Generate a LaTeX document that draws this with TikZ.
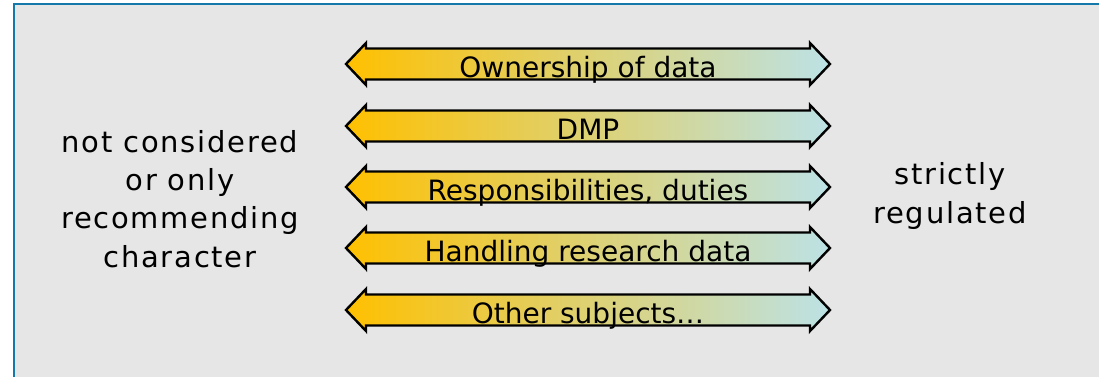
\documentclass[tikz,border=0pt]{standalone}
\usepackage{fontspec}
\setmainfont{DejaVu Sans}
\newfontfamily\widefont[LetterSpace=6]{DejaVu Sans}
\begin{document}
\definecolor{framecol}{RGB}{20,120,170}
\definecolor{panel}{RGB}{230,230,230}
\definecolor{warm}{RGB}{255,192,0}
\definecolor{midtone}{RGB}{226,210,100}
\definecolor{cool}{RGB}{188,226,230}
\tikzset{
  bararrow/.style={left color=warm, middle color=midtone, right color=cool,
    draw=black, line width=2.4pt, line join=miter},
  bartext/.style={font=\fontsize{28}{32}\selectfont, text=black, inner sep=0pt, anchor=base},
  sidetext/.style={font=\widefont\fontsize{29}{38.3}\selectfont, align=center, inner sep=0pt}
}
\begin{tikzpicture}[x=1pt,y=-1pt]
\useasboundingbox (0,0) rectangle (1099,376);
\fill[white] (0,0) rectangle (1099,376);
\clip (0,0) rectangle (1099,376);
\draw[framecol, line width=2pt, fill=panel] (14,4) rectangle (1120,400);
% double-headed gradient bars
\foreach \cy/\name/\lab in {64/a1/Ownership of data, 126/a2/DMP, 187/a3/{Responsibilities, duties}, 248/a4/Handling research data, 310/a5/Other subjects\dots}{
  \shade[bararrow] (346,\cy) -- (366,\cy-21) -- (366,\cy-15.5) -- (810,\cy-15.5)
    -- (810,\cy-21) -- (830,\cy) -- (810,\cy+21) -- (810,\cy+15.5)
    -- (366,\cy+15.5) -- (366,\cy+21) -- cycle;
  \node[bartext] (\name) at (588,\cy+13) {\lab};
}
\node[sidetext] (left) at (180,199) {not considered\\or only\\recommending\\character};
\node[sidetext] (right) at (950,196) {strictly\\regulated};
\end{tikzpicture}
\end{document}
